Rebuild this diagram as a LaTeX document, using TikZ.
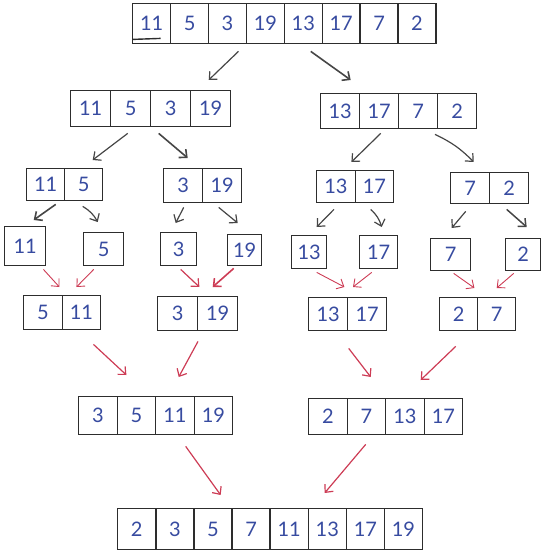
\documentclass[tikz,border=0pt]{standalone}
\usepackage{fontspec}
\setmainfont{Lato}
\usetikzlibrary{arrows.meta,calc}
\definecolor{ink}{RGB}{45,45,45}
\definecolor{digit}{RGB}{55,75,160}
\definecolor{redarr}{RGB}{205,60,85}
\definecolor{grayarr}{RGB}{70,70,70}
\tikzset{
 cell/.style={draw=ink, line width=1.4pt, inner sep=0pt, text=digit, font=\fontsize{20}{20}\selectfont, anchor=north west},
 darr/.style={draw=grayarr, line width=1.2pt, -{Straight Barb[length=6pt,width=11pt]}},
 rarr/.style={draw=redarr, line width=1.2pt, -{Straight Barb[length=6pt,width=11pt]}},
}
\newcommand\cellrow[6]{\foreach \v [count=\i] in {#6}{\node[cell, minimum width=#4 pt, minimum height=#5 pt] (#1-\i) at ({#2+(\i-1)*#4},#3) {\v};}}
\begin{document}
\begin{tikzpicture}[x=1pt,y=-1pt]
\useasboundingbox (0,0) rectangle (546,553);
% rows
\cellrow{T}{132}{3}{37.9}{40}{11,5,3,19,13,17,7,2}
\cellrow{L}{70}{90}{40}{36}{11,5,3,19}
\cellrow{R}{320}{93}{39}{35}{13,17,7,2}
\cellrow{A}{26}{168}{38}{32}{11,5}
\cellrow{B}{163}{168}{39}{34}{3,19}
\cellrow{C}{316}{170}{38.5}{32}{13,17}
\cellrow{D}{450}{172}{39}{31}{7,2}
\cellrow{Sa}{4}{226}{41}{39}{11}
\cellrow{Sb}{83}{232}{40}{33}{5}
\cellrow{Sc}{160}{232}{36}{33}{3}
\cellrow{Sd}{227}{234}{34}{31}{19}
\cellrow{Se}{291}{235}{35}{33}{13}
\cellrow{Sf}{359}{235}{38}{33}{17}
\cellrow{Sg}{430}{238}{40}{32}{7}
\cellrow{Sh}{505}{238}{35}{32}{2}
\cellrow{E}{23}{295}{38.5}{34}{5,11}
\cellrow{F}{157}{296}{40}{34}{3,19}
\cellrow{G}{308}{297}{39}{33}{13,17}
\cellrow{H}{439}{297}{38}{33}{2,7}
\cellrow{I}{78}{396}{38.5}{38}{3,5,11,19}
\cellrow{J}{308}{398}{38.5}{36}{2,7,13,17}
\cellrow{K}{117}{508}{38.1}{41}{2,3,5,7,11,13,17,19}
% underline mark
\draw[ink, line width=1.4pt] ($(T-1.south west)+(1,-5)$) -- ($(T-1.south)+(9,-6)$);
% split arrows (gray)
\draw[darr] ($(T-3.south)+(11,7)$) -- ($(L-4.north)+(-2,-10)$);
\draw[darr, line width=1.6pt] ($(T-5.south)+(7.5,7)$) -- ($(R-1.north)+(10.5,-13)$);
\draw[darr] ($(L-2.south)+(-3,6)$) -- ($(A-2.north)+(9,-8)$);
\draw[darr, line width=1.6pt] ($(L-3.south)+(-12,6)$) -- ($(B-1.north)+(4.5,-10)$);
\draw[darr] ($(R-2.south)+(1.5,4)$) -- ($(C-1.north east)+(-4.5,-8)$);
\draw[darr] ($(R-4.south west)+(-2,5)$) to[bend left=10] ($(D-1.north)+(3.5,-10)$);
\draw[darr, line width=1.6pt] ($(A-1.south)+(10,3)$) -- ($(Sa-1.north)+(8.5,-6)$);
\draw[darr] ($(A-2.south)+(-1,5)$) to[bend left=15] ($(Sb-1.north)+(-6,-10)$);
\draw[darr] ($(B-1.south)+(0.5,4)$) -- ($(Sc-1.north)+(-3,-9)$);
\draw[darr] ($(B-2.south)+(-3.5,4)$) -- ($(Sd-1.north)+(-7,-11)$);
\draw[darr] ($(C-1.south)+(-2,6)$) -- ($(Se-1.north)+(7.5,-8)$);
\draw[darr] ($(C-2.south)+(-3.75,6)$) to[bend left=15] ($(Sf-1.north)+(3,-8)$);
\draw[darr] ($(D-1.south)+(-4.5,7)$) -- ($(Sg-1.north)+(1,-10)$);
\draw[darr, line width=1.5pt] ($(D-2.south)+(-2.5,5)$) -- ($(Sh-1.north)+(3.5,-11)$);
% merge arrows (red)
\draw[rarr, line width=0.9pt] ($(Sa-1.south east)+(-3,3)$) -- ($(E-1.north east)+(-3.5,-8)$);
\draw[rarr, line width=0.9pt] ($(Sb-1.south)+(-10,3)$) -- ($(E-2.north)+(-5,-8)$);
\draw[rarr] ($(Sc-1.south)+(2,3)$) -- ($(F-1.north east)+(1,-9)$);
\draw[rarr, line width=1.6pt] ($(Sd-1.south)+(-11,2)$) -- ($(F-2.north)+(-5,-9)$);
\draw[rarr, line width=0.9pt] ($(Se-1.south)+(7.5,3)$) -- ($(G-1.north east)+(-4,-10)$);
\draw[rarr, line width=0.9pt] ($(Sf-1.south)+(-7,3)$) -- ($(G-2.north west)+(6,-10)$);
\draw[rarr, line width=0.9pt] ($(Sg-1.south)+(3,2)$) -- ($(H-1.north east)+(-4,-9)$);
\draw[rarr, line width=0.9pt] ($(Sh-1.south)+(-9.5,2)$) -- ($(H-2.north)+(0,-9)$);
\draw[rarr] ($(E-2.south)+(12,14)$) -- ($(I-1.north east)+(8.5,-21)$);
\draw[rarr] ($(F-2.south west)+(1,10)$) -- ($(I-3.north)+(3.75,-19)$);
\draw[rarr] ($(G-1.south)+(20.5,17)$) -- ($(J-2.north)+(4.25,-21)$);
\draw[rarr] ($(H-1.south)+(-3,15)$) -- ($(J-3.north)+(15.75,-18)$);
\draw[rarr] ($(I-3.south)+(10.75,11)$) -- ($(K-3.north)+(7.7,-13)$);
\draw[rarr] ($(J-2.south)+(-0.75,9)$) -- ($(K-6.north)+(-2.6,-15)$);
\end{tikzpicture}
\end{document}
